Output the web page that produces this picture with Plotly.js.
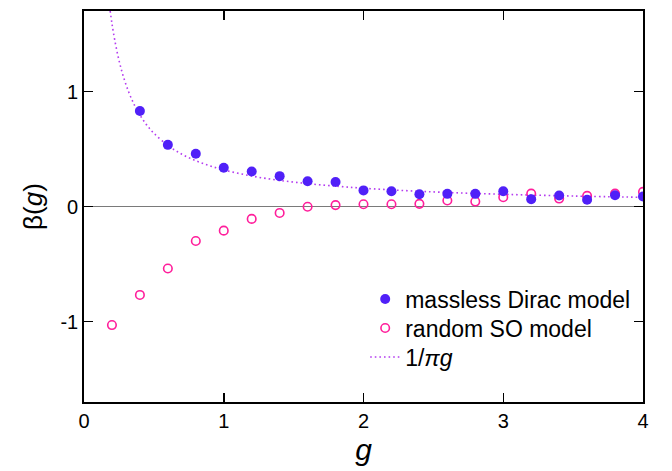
<!DOCTYPE html>
<html>
<head>
<meta charset="utf-8">
<script src="https://cdn.plot.ly/plotly-3.0.1.min.js"></script>
<style>html,body{margin:0;padding:0;background:#fff;}#chart{width:672px;height:471px;}</style>
</head>
<body>
<div id="chart"></div>
<script>
// Data
var gDirac = [0.4, 0.6, 0.8, 1.0, 1.2, 1.4, 1.6, 1.8, 2.0, 2.2, 2.4, 2.6, 2.8, 3.0, 3.2, 3.4, 3.6, 3.8, 4.0];
var betaDirac = [0.83, 0.536, 0.458, 0.337, 0.305, 0.264, 0.22, 0.213, 0.14, 0.133, 0.107, 0.11, 0.11, 0.133, 0.064, 0.095, 0.058, 0.098, 0.087];

var gSO = [0.2, 0.4, 0.6, 0.8, 1.0, 1.2, 1.4, 1.6, 1.8, 2.0, 2.2, 2.4, 2.6, 2.8, 3.0, 3.2, 3.4, 3.6, 3.8, 4.0];
var betaSO = [-1.031, -0.769, -0.539, -0.30, -0.21, -0.108, -0.056, -0.002, 0.012, 0.02, 0.02, 0.023, 0.052, 0.043, 0.081, 0.112, 0.069, 0.092, 0.112, 0.127];

// 1/(pi g) reference curve, tabulated
var gCurve = [0.1872, 0.2, 0.22, 0.25, 0.28, 0.32, 0.36, 0.4, 0.45, 0.5, 0.6, 0.7, 0.8, 0.9, 1.0, 1.2, 1.4, 1.6, 1.8, 2.0, 2.3, 2.6, 3.0, 3.5, 4.0];
var betaCurve = [1.700, 1.592, 1.447, 1.273, 1.137, 0.995, 0.884, 0.796, 0.707, 0.637, 0.531, 0.455, 0.398, 0.354, 0.318, 0.265, 0.227, 0.199, 0.177, 0.159, 0.138, 0.122, 0.106, 0.091, 0.080];

var xTickVals = [0, 1, 2, 3, 4];
var xTickText = ['0', '1', '2', '3', '4'];
var yTickVals = [-1, 0, 1];
var yTickText = ['-1', '0', '1'];

var font = 'Liberation Sans, Arial, Helvetica, sans-serif';

var traces = [
  {
    x: gCurve, y: betaCurve, type: 'scatter', mode: 'lines',
    name: '1/<i>πg</i>', legend: 'legend3',
    line: {color: '#b43cf0', width: 1.6, dash: '1.6px,3px', shape: 'spline'},
    hoverinfo: 'skip'
  },
  {
    x: gSO, y: betaSO, type: 'scatter', mode: 'markers',
    name: 'random SO model', legend: 'legend2',
    marker: {symbol: 'circle-open', size: 8.5, color: '#ff1e9b', line: {width: 1.6, color: '#ff1e9b'}}
  },
  {
    x: gDirac, y: betaDirac, type: 'scatter', mode: 'markers',
    name: 'massless Dirac model', legend: 'legend',
    marker: {symbol: 'circle', size: 10, color: '#5020f8', line: {width: 0}}
  }
];

var axisCommon = {
  showline: true, linecolor: '#000', linewidth: 1.8, mirror: 'ticks',
  ticks: 'inside', ticklen: 9, tickwidth: 1.5, tickcolor: '#000',
  showgrid: false, tickfont: {family: font, size: 20, color: '#000'}
};

function legendAt(yPos) {
  return {
    x: 0.503, y: yPos, xanchor: 'left', yanchor: 'top',
    bgcolor: 'rgba(0,0,0,0)', borderwidth: 0,
    font: {family: font, size: 23, color: '#000'}
  };
}

var layout = {
  width: 672, height: 471,
  margin: {l: 84, r: 29, t: 11, b: 69, pad: 0},
  paper_bgcolor: '#fff', plot_bgcolor: '#fff',
  font: {family: font, color: '#000'},
  showlegend: true,
  legend: legendAt(0.3184),
  legend2: legendAt(0.2442),
  legend3: legendAt(0.1701),
  xaxis: Object.assign({}, axisCommon, {
    range: [0, 4], tickmode: 'array', tickvals: xTickVals, ticktext: xTickText,
    zeroline: false,
    title: {text: '<i>g</i>', font: {family: font, size: 30, color: '#000'}, standoff: 8}
  }),
  yaxis: Object.assign({}, axisCommon, {
    range: [-1.7, 1.7], tickmode: 'array', tickvals: yTickVals, ticktext: yTickText,
    zeroline: true, zerolinecolor: '#7a7a7a', zerolinewidth: 1.8,
    title: {text: 'β(<i>g</i>)', font: {family: font, size: 26, color: '#000'}, standoff: 10}
  })
};

Plotly.newPlot('chart', traces, layout, {displayModeBar: false, staticPlot: true});
</script>
</body>
</html>
